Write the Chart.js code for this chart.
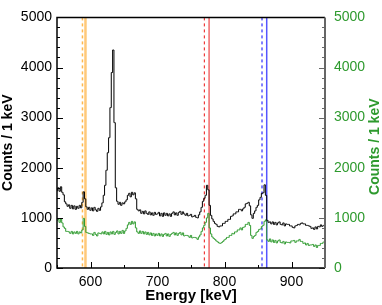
<!DOCTYPE html>
<html>
<head>
<meta charset="utf-8">
<script src="https://cdn.jsdelivr.net/npm/chart.js@4/dist/chart.umd.min.js"></script>
<style>
  html, body { margin: 0; padding: 0; background: #fff; }
  #wrap { width: 382px; height: 305px; }
</style>
</head>
<body>
<div id="wrap"><canvas id="spectrum"></canvas></div>
<script>
// histogram bins: 2 keV wide, starting at 550 keV
const binStart = 550;
const binWidth = 2;

// black spectrum, left axis (counts / 1 keV)
const countsBlack = [
  1540, 1600, 1530, 1620, 1510, 1460, 1320, 1280, 1230, 1260,
  1190, 1250, 1180, 1240, 1170, 1230, 1190, 1250, 1200, 1310,
  1520, 1380, 1220, 1170, 1210, 1150, 1200, 1140, 1210, 1160,
  1130, 1190, 1150, 1220, 1300, 1450, 1650, 1950, 2300, 2600,
  3200, 3900, 4350, 2900, 1600, 1330, 1270, 1310, 1250, 1300,
  1280, 1320, 1360, 1450, 1490, 1420, 1510, 1460, 1500, 1380,
  1170, 1140, 1160, 1090, 1130, 1080, 1140, 1090, 1070, 1120,
  1060, 1100, 1050, 1110, 1070, 1080, 1110, 1040, 1090, 1030,
  1100, 1050, 1090, 1040, 1080, 1030, 1090, 1120, 1060, 1100,
  1050, 1110, 1130, 1070, 1120, 1080, 1050, 1090, 1040, 1050,
  1070, 1020, 1030, 1050, 1010, 1000, 1060, 1120, 1210, 1330,
  1390, 1450, 1650, 1560, 1250, 1050, 980, 930, 890, 870,
  830, 820, 840, 840, 890, 890, 930, 930, 970, 970,
  1030, 1040, 1080, 1080, 1120, 1120, 1170, 1170, 1140, 1180,
  1210, 1280, 1290, 1310, 1240, 1060, 990, 1090, 1140, 1210,
  1250, 1360, 1410, 1490, 1500, 1660, 1450, 950, 910, 920,
  880, 920, 870, 910, 860, 900, 920, 870, 860, 900,
  840, 880, 870, 870, 840, 840, 810, 800, 840, 850,
  870, 860, 890, 900, 880, 880, 850, 850, 840, 830,
  790, 800, 770, 820, 780, 830, 820, 860, 830, 850
];

// green spectrum, right axis (counts / 1 keV)
const countsGreen = [
  950, 970, 910, 980, 900, 820, 790, 730, 730, 720,
  690, 730, 680, 720, 690, 730, 680, 720, 700, 760,
  990, 830, 710, 700, 690, 680, 680, 650, 710, 670,
  640, 700, 690, 680, 720, 680, 730, 670, 710, 660,
  720, 680, 730, 670, 710, 740, 680, 730, 690, 750,
  690, 740, 790, 860, 910, 870, 930, 880, 920, 800,
  720, 690, 740, 690, 730, 680, 720, 670, 710, 660,
  700, 650, 690, 640, 680, 650, 690, 640, 680, 630,
  670, 690, 640, 680, 630, 670, 690, 710, 660, 700,
  650, 690, 710, 660, 700, 640, 650, 650, 640, 610,
  650, 600, 610, 610, 600, 570, 620, 660, 730, 800,
  850, 910, 1000, 1090, 800, 680, 620, 590, 570, 540,
  520, 500, 490, 510, 530, 560, 580, 610, 610, 650,
  650, 690, 680, 720, 720, 760, 760, 800, 760, 810,
  820, 870, 870, 910, 850, 650, 590, 630, 650, 710,
  730, 770, 780, 830, 850, 930, 960, 560, 530, 580,
  520, 560, 510, 550, 500, 540, 560, 510, 500, 530,
  480, 520, 510, 510, 500, 540, 540, 550, 510, 540,
  540, 570, 530, 530, 490, 500, 460, 490, 450, 460,
  460, 470, 430, 460, 410, 450, 450, 490, 490, 520
];

// vertical marker lines (keV)
const markerEnergies = [588, 592.5, 770, 777, 856, 863];
const markerColors = ["#ffb84d", "#ffc97a", "#ee3b3b", "#f06a6a", "#8080ff", "#5555ff"];
const markerDashed = [true, false, true, false, true, false];
const markerWidths = [1.5, 2.5, 1.2, 1.5, 2, 1.5];

const energyTicks = [600, 700, 800, 900];
const energyMinorTicks = [550, 650, 750, 850, 950];
const countTicks = [0, 1000, 2000, 3000, 4000, 5000];

const greenColor = "#2e9a2e";
const fontFamily = "'Liberation Sans', Arial, sans-serif";
const rightTitle = "Counts / 1 keV";

function toPoints(values) {
    return values.map((v, i) => ({ x: binStart + i * binWidth, y: v }));
}

const markerPlugin = {
    id: "markers",
    beforeDatasetsDraw(chart) {
        const ctx = chart.ctx;
        const area = chart.chartArea;
        const xScale = chart.scales.x;
        ctx.save();
        markerEnergies.forEach((e, i) => {
            const px = xScale.getPixelForValue(e);
            ctx.beginPath();
            ctx.strokeStyle = markerColors[i];
            ctx.lineWidth = markerWidths[i];
            ctx.setLineDash(markerDashed[i] ? [3, 3] : []);
            ctx.moveTo(px, area.top);
            ctx.lineTo(px, area.bottom);
            ctx.stroke();
        });
        ctx.restore();
    },
    afterDraw(chart) {
        // frame and inward ticks
        const ctx = chart.ctx;
        const a = chart.chartArea;
        const xs = chart.scales.x;
        const yl = chart.scales.y;
        ctx.save();
        ctx.lineWidth = 1;
        ctx.strokeStyle = "#000";
        ctx.beginPath();
        energyTicks.forEach(v => {
            const px = Math.round(xs.getPixelForValue(v)) + 0.5;
            ctx.moveTo(px, a.bottom); ctx.lineTo(px, a.bottom - 6);
        });
        energyMinorTicks.forEach(v => {
            const px = Math.round(xs.getPixelForValue(v)) + 0.5;
            ctx.moveTo(px, a.bottom); ctx.lineTo(px, a.bottom - 3);
        });
        for (let v = 0; v <= 5000; v += 200) {
            const py = Math.round(yl.getPixelForValue(v)) + 0.5;
            const len = v % 1000 === 0 ? 6 : 3;
            ctx.moveTo(a.left, py); ctx.lineTo(a.left + len, py);
        }
        ctx.stroke();
        ctx.strokeStyle = "#666";
        ctx.beginPath();
        for (let v = 0; v <= 5000; v += 200) {
            const py = Math.round(yl.getPixelForValue(v)) + 0.5;
            const len = v % 1000 === 0 ? 6 : 3;
            ctx.moveTo(a.right, py); ctx.lineTo(a.right - len, py);
        }
        ctx.stroke();
        ctx.strokeStyle = "#000";
        ctx.lineWidth = 1.5;
        ctx.beginPath();
        ctx.moveTo(a.right, a.top); ctx.lineTo(a.left, a.top);
        ctx.lineTo(a.left, a.bottom); ctx.lineTo(a.right, a.bottom);
        ctx.stroke();
        ctx.strokeStyle = "#666";
        ctx.lineWidth = 2;
        ctx.beginPath();
        ctx.moveTo(a.right, a.top); ctx.lineTo(a.right, a.bottom);
        ctx.stroke();

        // right axis title, reading bottom to top like the left one
        ctx.translate(375, (a.top + a.bottom) / 2 + 4);
        ctx.rotate(-Math.PI / 2);
        ctx.fillStyle = greenColor;
        ctx.font = "bold 14px " + fontFamily;
        ctx.textAlign = "center";
        ctx.textBaseline = "middle";
        ctx.fillText(rightTitle, 0, 0);
        ctx.restore();
    }
};

const ctxSpectrum = document.getElementById("spectrum");
new Chart(ctxSpectrum, {
    type: "line",
    data: {
        datasets: [{
            label: "black",
            data: toPoints(countsBlack),
            borderColor: "#000",
            borderWidth: 1,
            pointRadius: 0,
            stepped: "middle",
            yAxisID: "y"
        },
        {
            label: "green",
            data: toPoints(countsGreen),
            borderColor: greenColor,
            borderWidth: 1,
            pointRadius: 0,
            stepped: "middle",
            yAxisID: "y2"
        }]
    },
    options: {
        responsive: true,
        maintainAspectRatio: false,
        animation: false,
        layout: { padding: { top: 8, left: 0, right: 0, bottom: 0 } },
        plugins: { legend: { display: false }, tooltip: { enabled: false } },
        scales: {
            x: {
                type: "linear",
                min: 550,
                max: 950,
                afterBuildTicks: s => { s.ticks = energyTicks.map(v => ({ value: v })); },
                afterFit: s => { s.height = 37; },
                grid: { display: false, drawTicks: false },
                border: { display: false },
                ticks: { color: "#000", padding: 6, maxRotation: 0, callback: v => String(v),
                         font: { family: fontFamily, size: 14 } },
                title: { display: true, text: "Energy [keV]", color: "#000", padding: { top: 0, bottom: 0 },
                         font: { family: fontFamily, size: 15, weight: "bold" } }
            },
            y: {
                position: "left",
                min: 0,
                max: 5000,
                afterBuildTicks: s => { s.ticks = countTicks.map(v => ({ value: v })); },
                afterFit: s => { s.width = 57; },
                grid: { display: false, drawTicks: false },
                border: { display: false },
                ticks: { color: "#000", padding: 5, callback: v => String(v),
                         font: { family: fontFamily, size: 14 } },
                title: { display: true, text: "Counts / 1 keV", color: "#000", padding: { top: 0, bottom: 0 },
                         font: { family: fontFamily, size: 14, weight: "bold" } }
            },
            y2: {
                position: "right",
                min: 0,
                max: 5000,
                afterBuildTicks: s => { s.ticks = countTicks.map(v => ({ value: v })); },
                afterFit: s => { s.width = 57; },
                grid: { display: false, drawTicks: false },
                border: { display: false },
                ticks: { color: greenColor, padding: 9, callback: v => String(v),
                         font: { family: fontFamily, size: 14 } },
                title: { display: false }
            }
        }
    },
    plugins: [markerPlugin]
});
</script>
</body>
</html>
